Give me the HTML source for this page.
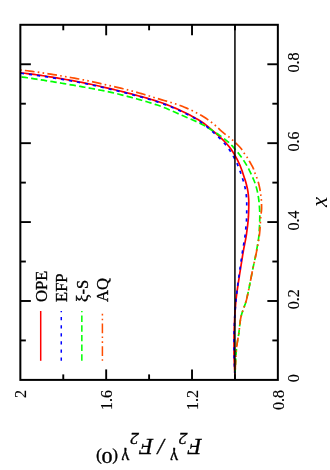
<!DOCTYPE html><html><head><meta charset="utf-8"><style>html,body{margin:0;padding:0;background:#fff;}svg{display:block;font-family:"Liberation Serif",serif;fill:#000;will-change:transform;}text{stroke:#000;stroke-width:0.35px;}</style></head><body><svg width="330" height="470" viewBox="0 0 330 470">
<rect width="330" height="470" fill="#fff"/>
<path d="M234.90,374.70 L234.76,372.39 L234.64,370.09 L234.52,367.78 L234.42,365.48 L234.33,363.17 L234.23,360.86 L234.14,358.56 L234.06,356.25 L234.01,353.94 L234.00,351.63 L234.00,349.32 L234.00,347.01 L234.00,344.71 L234.00,342.40 L234.00,340.09 L234.01,337.78 L234.05,335.47 L234.10,333.16 L234.17,330.85 L234.25,328.55 L234.34,326.24 L234.43,323.93 L234.53,321.63 L234.63,319.32 L234.74,317.01 L234.87,314.71 L235.01,312.40 L235.16,310.10 L235.34,307.79 L235.52,305.49 L235.71,303.19 L235.92,300.89 L236.14,298.60 L236.41,296.30 L236.71,294.02 L237.02,291.73 L237.35,289.44 L237.68,287.15 L238.01,284.87 L238.35,282.59 L238.70,280.30 L239.05,278.02 L239.41,275.74 L239.77,273.46 L240.14,271.18 L240.49,268.90 L240.85,266.62 L241.21,264.34 L241.57,262.06 L241.93,259.78 L242.29,257.50 L242.66,255.22 L243.04,252.94 L243.43,250.66 L243.84,248.39 L244.28,246.12 L244.73,243.86 L245.18,241.59 L245.61,239.32 L246.01,237.05 L246.38,234.77 L246.69,232.49 L247.00,230.20 L247.30,227.91 L247.59,225.61 L247.85,223.32 L248.09,221.02 L248.29,218.72 L248.44,216.41 L248.53,214.11 L248.62,211.81 L248.69,209.50 L248.75,207.19 L248.79,204.88 L248.80,202.57 L248.74,200.26 L248.60,197.95 L248.40,195.65 L248.17,193.36 L247.85,191.08 L247.41,188.80 L246.89,186.55 L246.35,184.30 L245.75,182.08 L245.06,179.87 L244.33,177.68 L243.60,175.49 L242.87,173.29 L242.14,171.10 L241.37,168.92 L240.55,166.77 L239.66,164.65 L238.69,162.54 L237.67,160.47 L236.60,158.42 L235.50,156.39 L234.35,154.39 L233.14,152.40 L231.89,150.46 L230.57,148.57 L229.19,146.74 L227.71,144.96 L226.17,143.23 L224.59,141.53 L222.99,139.88 L221.34,138.27 L219.65,136.70 L217.93,135.15 L216.19,133.63 L214.44,132.12 L212.68,130.63 L210.92,129.12 L209.16,127.61 L207.37,126.13 L205.56,124.69 L203.72,123.31 L201.83,122.02 L199.91,120.78 L197.95,119.57 L195.96,118.40 L193.95,117.25 L191.91,116.14 L189.86,115.05 L187.79,113.99 L185.72,112.96 L183.63,111.95 L181.55,110.96 L179.47,110.00 L177.36,109.05 L175.25,108.12 L173.12,107.21 L170.98,106.32 L168.83,105.46 L166.68,104.62 L164.51,103.81 L162.34,103.02 L160.17,102.26 L157.99,101.53 L155.80,100.82 L153.60,100.13 L151.39,99.46 L149.17,98.80 L146.95,98.16 L144.73,97.54 L142.50,96.92 L140.27,96.31 L138.03,95.71 L135.80,95.11 L133.57,94.51 L131.34,93.92 L129.11,93.33 L126.87,92.75 L124.64,92.17 L122.40,91.61 L120.16,91.05 L117.92,90.50 L115.67,89.96 L113.42,89.42 L111.18,88.89 L108.93,88.37 L106.68,87.85 L104.43,87.33 L102.18,86.81 L99.93,86.29 L97.67,85.78 L95.42,85.28 L93.16,84.78 L90.91,84.29 L88.65,83.80 L86.39,83.33 L84.13,82.86 L81.87,82.41 L79.60,81.96 L77.33,81.53 L75.07,81.11 L72.80,80.70 L70.53,80.30 L68.26,79.89 L65.98,79.49 L63.71,79.10 L61.44,78.71 L59.16,78.33 L56.89,77.95 L54.61,77.57 L52.33,77.20 L50.05,76.84 L47.77,76.48 L45.49,76.13 L43.20,75.78 L40.92,75.44 L38.63,75.11 L36.35,74.78 L34.06,74.46 L31.77,74.15 L29.48,73.84 L27.18,73.54 L24.89,73.25 L22.60,72.97 L20.30,72.70" fill="none" stroke="#ff0000" stroke-width="1.7"/>
<path d="M235.00,374.70 L235.10,372.37 L235.20,370.04 L235.31,367.71 L235.43,365.38 L235.56,363.04 L235.68,360.71 L235.82,358.38 L235.95,356.05 L236.08,353.72 L236.23,351.39 L236.42,349.07 L236.67,346.75 L236.99,344.44 L237.35,342.13 L237.73,339.83 L238.19,337.54 L238.58,335.24 L238.89,332.92 L239.16,330.60 L239.41,328.27 L239.65,325.94 L239.91,323.61 L240.21,321.30 L240.56,319.01 L241.00,316.75 L241.58,314.50 L242.27,312.28 L243.03,310.06 L243.83,307.85 L244.63,305.64 L245.39,303.42 L246.08,301.19 L246.67,298.94 L247.20,296.67 L247.71,294.39 L248.19,292.10 L248.66,289.82 L249.14,287.53 L249.61,285.24 L250.06,282.96 L250.51,280.67 L250.96,278.38 L251.41,276.08 L251.85,273.79 L252.30,271.50 L252.76,269.21 L253.23,266.93 L253.71,264.64 L254.21,262.36 L254.70,260.08 L255.17,257.79 L255.64,255.51 L256.08,253.22 L256.48,250.92 L256.89,248.62 L257.31,246.32 L257.71,244.01 L258.10,241.71 L258.45,239.40 L258.75,237.08 L258.98,234.77 L259.15,232.45 L259.28,230.12 L259.41,227.79 L259.53,225.46 L259.63,223.12 L259.71,220.79 L259.77,218.45 L259.80,216.12 L259.79,213.79 L259.72,211.45 L259.60,209.12 L259.43,206.79 L259.25,204.46 L259.05,202.14 L258.79,199.82 L258.47,197.51 L258.09,195.20 L257.67,192.91 L257.18,190.63 L256.62,188.35 L255.99,186.10 L255.30,183.88 L254.50,181.70 L253.61,179.54 L252.66,177.39 L251.69,175.27 L250.72,173.14 L249.71,171.03 L248.67,168.95 L247.57,166.89 L246.42,164.86 L245.21,162.86 L243.96,160.89 L242.65,158.95 L241.32,157.04 L239.93,155.17 L238.49,153.33 L237.01,151.52 L235.51,149.73 L233.99,147.96 L232.46,146.19 L230.88,144.47 L229.21,142.86 L227.44,141.33 L225.62,139.86 L223.77,138.43 L221.91,137.03 L220.02,135.66 L218.11,134.32 L216.18,133.00 L214.23,131.71 L212.28,130.43 L210.31,129.17 L208.33,127.93 L206.34,126.71 L204.32,125.54 L202.27,124.43 L200.20,123.38 L198.11,122.36 L196.00,121.38 L193.87,120.43 L191.72,119.49 L189.57,118.57 L187.42,117.66 L185.26,116.74 L183.11,115.83 L180.97,114.90 L178.83,113.96 L176.70,113.00 L174.57,112.05 L172.43,111.09 L170.29,110.15 L168.15,109.22 L166.00,108.32 L163.84,107.44 L161.66,106.61 L159.48,105.82 L157.28,105.05 L155.07,104.32 L152.85,103.60 L150.63,102.90 L148.39,102.22 L146.15,101.55 L143.91,100.90 L141.66,100.26 L139.41,99.62 L137.16,99.00 L134.90,98.38 L132.65,97.77 L130.40,97.16 L128.15,96.56 L125.89,95.96 L123.63,95.38 L121.36,94.81 L119.10,94.24 L116.83,93.70 L114.56,93.16 L112.28,92.64 L110.01,92.14 L107.73,91.65 L105.44,91.17 L103.15,90.70 L100.86,90.25 L98.57,89.80 L96.28,89.36 L93.99,88.93 L91.69,88.51 L89.40,88.09 L87.10,87.67 L84.80,87.26 L82.51,86.84 L80.21,86.43 L77.92,86.02 L75.62,85.62 L73.32,85.21 L71.02,84.81 L68.72,84.41 L66.42,84.01 L64.12,83.62 L61.82,83.23 L59.52,82.84 L57.22,82.45 L54.92,82.07 L52.61,81.69 L50.31,81.32 L48.01,80.94 L45.70,80.58 L43.40,80.21 L41.09,79.85 L38.78,79.49 L36.48,79.14 L34.17,78.79 L31.86,78.45 L29.55,78.11 L27.24,77.78 L24.93,77.45 L22.61,77.12 L20.30,76.80" fill="none" stroke="#00ff00" stroke-width="1.7" stroke-dasharray="6.48 3.24" stroke-dashoffset="0"/>
<path d="M234.90,374.70 L234.76,372.41 L234.64,370.11 L234.52,367.82 L234.42,365.52 L234.33,363.22 L234.23,360.93 L234.14,358.63 L234.07,356.33 L234.02,354.04 L234.00,351.74 L234.00,349.44 L234.00,347.14 L234.00,344.85 L234.00,342.55 L234.00,340.25 L234.01,337.95 L234.04,335.66 L234.09,333.36 L234.16,331.06 L234.24,328.76 L234.33,326.47 L234.42,324.17 L234.52,321.87 L234.62,319.58 L234.73,317.29 L234.85,314.99 L235.00,312.70 L235.16,310.40 L235.33,308.11 L235.51,305.82 L235.69,303.53 L235.89,301.24 L236.10,298.95 L236.33,296.67 L236.58,294.38 L236.85,292.10 L237.13,289.82 L237.42,287.54 L237.70,285.26 L238.00,282.98 L238.31,280.70 L238.63,278.43 L238.95,276.15 L239.27,273.88 L239.60,271.60 L239.92,269.33 L240.24,267.05 L240.56,264.78 L240.88,262.50 L241.21,260.23 L241.54,257.95 L241.87,255.68 L242.20,253.40 L242.54,251.13 L242.90,248.86 L243.28,246.59 L243.67,244.32 L244.06,242.06 L244.44,239.79 L244.78,237.52 L245.09,235.24 L245.35,232.96 L245.58,230.68 L245.82,228.39 L246.04,226.10 L246.25,223.81 L246.43,221.52 L246.57,219.22 L246.66,216.93 L246.70,214.63 L246.72,212.34 L246.73,210.04 L246.74,207.74 L246.75,205.44 L246.75,203.14 L246.72,200.85 L246.58,198.55 L246.38,196.25 L246.14,193.97 L245.85,191.70 L245.44,189.43 L244.94,187.18 L244.41,184.94 L243.83,182.73 L243.17,180.53 L242.45,178.34 L241.72,176.16 L241.00,173.97 L240.27,171.79 L239.52,169.61 L238.72,167.46 L237.86,165.34 L236.92,163.24 L235.92,161.17 L234.87,159.12 L233.79,157.10 L232.67,155.09 L231.49,153.11 L230.27,151.15 L229.00,149.24 L227.67,147.38 L226.26,145.56 L224.79,143.79 L223.27,142.05 L221.72,140.37 L220.12,138.72 L218.48,137.12 L216.80,135.55 L215.09,134.00 L213.37,132.47 L211.64,130.95 L209.92,129.42 L208.19,127.89 L206.45,126.37 L204.67,124.90 L202.87,123.50 L201.01,122.19 L199.11,120.94 L197.17,119.73 L195.19,118.56 L193.19,117.42 L191.16,116.31 L189.11,115.23 L187.05,114.18 L184.98,113.16 L182.90,112.16 L180.83,111.18 L178.75,110.22 L176.66,109.28 L174.55,108.36 L172.43,107.46 L170.30,106.59 L168.16,105.73 L166.01,104.91 L163.85,104.10 L161.69,103.32 L159.53,102.57 L157.35,101.85 L155.17,101.15 L152.98,100.46 L150.78,99.80 L148.57,99.15 L146.36,98.51 L144.15,97.89 L141.93,97.27 L139.71,96.67 L137.49,96.07 L135.27,95.47 L133.05,94.87 L130.83,94.28 L128.61,93.70 L126.38,93.12 L124.15,92.55 L121.93,91.99 L119.69,91.43 L117.46,90.89 L115.23,90.35 L112.99,89.82 L110.76,89.30 L108.52,88.78 L106.28,88.26 L104.04,87.74 L101.80,87.22 L99.56,86.71 L97.31,86.20 L95.07,85.70 L92.82,85.21 L90.58,84.72 L88.33,84.24 L86.08,83.76 L83.83,83.30 L81.58,82.85 L79.32,82.41 L77.07,81.98 L74.81,81.57 L72.55,81.16 L70.29,80.75 L68.03,80.35 L65.77,79.96 L63.51,79.57 L61.25,79.18 L58.98,78.79 L56.71,78.42 L54.45,78.04 L52.18,77.68 L49.91,77.31 L47.64,76.96 L45.37,76.61 L43.10,76.26 L40.82,75.92 L38.55,75.59 L36.27,75.27 L33.99,74.95 L31.71,74.64 L29.43,74.34 L27.15,74.04 L24.87,73.75 L22.59,73.47 L20.30,73.20" fill="none" stroke="#0000ff" stroke-width="1.7" stroke-dasharray="3.24 4.86" stroke-dashoffset="0"/>
<path d="M235.00,374.70 L235.10,372.33 L235.21,369.95 L235.32,367.58 L235.44,365.21 L235.57,362.84 L235.70,360.47 L235.83,358.09 L235.97,355.72 L236.10,353.35 L236.26,350.98 L236.46,348.61 L236.74,346.26 L237.07,343.90 L237.44,341.55 L237.84,339.21 L238.32,336.88 L238.68,334.54 L238.98,332.18 L239.24,329.81 L239.49,327.43 L239.75,325.06 L240.02,322.70 L240.34,320.36 L240.73,318.04 L241.24,315.74 L241.89,313.47 L242.63,311.21 L243.43,308.96 L244.24,306.71 L245.04,304.46 L245.78,302.19 L246.42,299.91 L246.99,297.60 L247.51,295.29 L248.01,292.96 L248.49,290.63 L248.97,288.31 L249.45,285.98 L249.92,283.65 L250.38,281.32 L250.83,278.99 L251.28,276.66 L251.73,274.32 L252.19,271.99 L252.67,269.67 L253.16,267.34 L253.67,265.02 L254.19,262.70 L254.71,260.38 L255.23,258.07 L255.73,255.74 L256.21,253.42 L256.66,251.09 L257.10,248.75 L257.54,246.42 L257.98,244.08 L258.40,241.73 L258.79,239.39 L259.14,237.04 L259.44,234.69 L259.68,232.33 L259.88,229.97 L260.05,227.60 L260.20,225.23 L260.34,222.85 L260.49,220.48 L260.65,218.11 L260.83,215.74 L261.11,213.38 L261.46,211.02 L261.60,208.66 L261.58,206.29 L261.53,203.91 L261.45,201.54 L261.27,199.17 L261.01,196.80 L260.71,194.44 L260.39,192.09 L260.00,189.75 L259.55,187.41 L259.04,185.09 L258.46,182.79 L257.76,180.52 L257.00,178.26 L256.16,176.05 L255.25,173.85 L254.46,171.60 L253.70,169.36 L252.74,167.20 L251.62,165.10 L250.43,163.03 L249.26,160.96 L248.09,158.89 L246.85,156.87 L245.43,154.96 L244.01,153.06 L242.78,151.02 L241.46,149.06 L239.95,147.25 L238.30,145.52 L236.60,143.84 L234.89,142.19 L233.16,140.56 L231.39,138.97 L229.57,137.45 L227.67,136.02 L225.74,134.63 L223.84,133.20 L222.03,131.67 L220.27,130.07 L218.54,128.44 L216.80,126.80 L215.04,125.21 L213.23,123.68 L211.36,122.23 L209.46,120.80 L207.52,119.40 L205.55,118.06 L203.55,116.79 L201.52,115.59 L199.46,114.42 L197.37,113.29 L195.26,112.18 L193.13,111.11 L190.98,110.07 L188.81,109.07 L186.63,108.10 L184.44,107.18 L182.24,106.30 L180.03,105.47 L177.80,104.68 L175.56,103.93 L173.29,103.22 L171.01,102.53 L168.73,101.86 L166.44,101.19 L164.15,100.53 L161.87,99.86 L159.59,99.18 L157.32,98.48 L155.05,97.78 L152.78,97.08 L150.51,96.38 L148.23,95.68 L145.96,94.99 L143.69,94.30 L141.41,93.63 L139.13,92.96 L136.84,92.31 L134.56,91.68 L132.26,91.06 L129.97,90.47 L127.67,89.88 L125.36,89.31 L123.05,88.75 L120.74,88.20 L118.43,87.66 L116.11,87.12 L113.80,86.59 L111.48,86.06 L109.16,85.54 L106.85,85.01 L104.53,84.49 L102.21,83.96 L99.89,83.44 L97.57,82.92 L95.25,82.41 L92.93,81.90 L90.61,81.40 L88.28,80.91 L85.96,80.43 L83.63,79.95 L81.30,79.49 L78.97,79.04 L76.64,78.60 L74.30,78.17 L71.97,77.76 L69.63,77.34 L67.29,76.93 L64.96,76.52 L62.62,76.12 L60.27,75.73 L57.93,75.33 L55.59,74.95 L53.25,74.57 L50.90,74.19 L48.55,73.82 L46.21,73.45 L43.86,73.10 L41.51,72.74 L39.16,72.40 L36.80,72.06 L34.45,71.73 L32.10,71.40 L29.74,71.09 L27.38,70.78 L25.02,70.48 L22.66,70.18 L20.30,69.90" fill="none" stroke="#ff4d00" stroke-width="1.7" stroke-dasharray="1.62 3.24 9.72 3.24 1.62 3.24" stroke-dashoffset="0"/>
<line x1="234.93" y1="24.8" x2="234.93" y2="379.9" stroke="#000" stroke-width="1.5"/>
<rect x="20.35" y="24.8" width="257.5" height="355.09999999999997" fill="none" stroke="#000" stroke-width="2.0"/>
<line x1="277.85" y1="340.44" x2="272.35" y2="340.44" stroke="#000" stroke-width="1.9"/>
<line x1="20.35" y1="340.44" x2="25.85" y2="340.44" stroke="#000" stroke-width="1.9"/>
<line x1="277.85" y1="300.99" x2="267.35" y2="300.99" stroke="#000" stroke-width="1.9"/>
<line x1="20.35" y1="300.99" x2="30.85" y2="300.99" stroke="#000" stroke-width="1.9"/>
<line x1="277.85" y1="261.53" x2="272.35" y2="261.53" stroke="#000" stroke-width="1.9"/>
<line x1="20.35" y1="261.53" x2="25.85" y2="261.53" stroke="#000" stroke-width="1.9"/>
<line x1="277.85" y1="222.08" x2="267.35" y2="222.08" stroke="#000" stroke-width="1.9"/>
<line x1="20.35" y1="222.08" x2="30.85" y2="222.08" stroke="#000" stroke-width="1.9"/>
<line x1="277.85" y1="182.62" x2="272.35" y2="182.62" stroke="#000" stroke-width="1.9"/>
<line x1="20.35" y1="182.62" x2="25.85" y2="182.62" stroke="#000" stroke-width="1.9"/>
<line x1="277.85" y1="143.17" x2="267.35" y2="143.17" stroke="#000" stroke-width="1.9"/>
<line x1="20.35" y1="143.17" x2="30.85" y2="143.17" stroke="#000" stroke-width="1.9"/>
<line x1="277.85" y1="103.71" x2="272.35" y2="103.71" stroke="#000" stroke-width="1.9"/>
<line x1="20.35" y1="103.71" x2="25.85" y2="103.71" stroke="#000" stroke-width="1.9"/>
<line x1="277.85" y1="64.26" x2="267.35" y2="64.26" stroke="#000" stroke-width="1.9"/>
<line x1="20.35" y1="64.26" x2="30.85" y2="64.26" stroke="#000" stroke-width="1.9"/>
<line x1="234.93" y1="379.9" x2="234.93" y2="374.4" stroke="#000" stroke-width="1.9"/>
<line x1="234.93" y1="24.8" x2="234.93" y2="30.3" stroke="#000" stroke-width="1.9"/>
<line x1="192.02" y1="379.9" x2="192.02" y2="369.4" stroke="#000" stroke-width="1.9"/>
<line x1="192.02" y1="24.8" x2="192.02" y2="35.3" stroke="#000" stroke-width="1.9"/>
<line x1="149.10" y1="379.9" x2="149.10" y2="374.4" stroke="#000" stroke-width="1.9"/>
<line x1="149.10" y1="24.8" x2="149.10" y2="30.3" stroke="#000" stroke-width="1.9"/>
<line x1="106.18" y1="379.9" x2="106.18" y2="369.4" stroke="#000" stroke-width="1.9"/>
<line x1="106.18" y1="24.8" x2="106.18" y2="35.3" stroke="#000" stroke-width="1.9"/>
<line x1="63.27" y1="379.9" x2="63.27" y2="374.4" stroke="#000" stroke-width="1.9"/>
<line x1="63.27" y1="24.8" x2="63.27" y2="30.3" stroke="#000" stroke-width="1.9"/>
<text transform="translate(299.40,378.20) rotate(-90) scale(1,1.05)" text-anchor="middle" font-size="16" style="stroke-width:0.15px">0</text>
<text transform="translate(299.40,299.29) rotate(-90) scale(1,1.05)" text-anchor="middle" font-size="16" style="stroke-width:0.15px">0.2</text>
<text transform="translate(299.40,220.38) rotate(-90) scale(1,1.05)" text-anchor="middle" font-size="16" style="stroke-width:0.15px">0.4</text>
<text transform="translate(299.40,141.47) rotate(-90) scale(1,1.05)" text-anchor="middle" font-size="16" style="stroke-width:0.15px">0.6</text>
<text transform="translate(299.40,62.56) rotate(-90) scale(1,1.05)" text-anchor="middle" font-size="16" style="stroke-width:0.15px">0.8</text>
<text transform="translate(283.75,390.00) rotate(-90) scale(1,1.05)" text-anchor="end" font-size="16" style="stroke-width:0.15px">0.8</text>
<text transform="translate(197.92,390.00) rotate(-90) scale(1,1.05)" text-anchor="end" font-size="16" style="stroke-width:0.15px">1.2</text>
<text transform="translate(112.08,390.00) rotate(-90) scale(1,1.05)" text-anchor="end" font-size="16" style="stroke-width:0.15px">1.6</text>
<text transform="translate(26.25,390.00) rotate(-90) scale(1,1.05)" text-anchor="end" font-size="16" style="stroke-width:0.15px">2</text>
<path d="M40.70,360.8 L40.70,311" fill="none" stroke="#ff0000" stroke-width="1.5"/>
<text transform="translate(46.50,301.90) rotate(-90)" text-anchor="start" font-size="16.5">OPE</text>
<path d="M61.27,360.8 L61.27,311" fill="none" stroke="#0000ff" stroke-width="1.5" stroke-dasharray="3.24 4.86"/>
<text transform="translate(67.07,301.90) rotate(-90)" text-anchor="start" font-size="16.5">EFP</text>
<path d="M81.84,360.8 L81.84,311" fill="none" stroke="#00ff00" stroke-width="1.5" stroke-dasharray="6.48 3.24"/>
<text transform="translate(87.64,301.90) rotate(-90)" text-anchor="start" font-size="16.5">&#958;-S</text>
<path d="M102.41,360.8 L102.41,311" fill="none" stroke="#ff4d00" stroke-width="1.5" stroke-dasharray="1.62 3.24 9.72 3.24 1.62 3.24"/>
<text transform="translate(108.21,301.90) rotate(-90)" text-anchor="start" font-size="16.5">AQ</text>
<text transform="translate(327.00,202.00) rotate(-90)" text-anchor="middle" font-size="23" font-style="italic" style="stroke-width:0">x</text>
<g transform="translate(201.5,439) rotate(180)" style="stroke-width:0.1px"><text x="-0.3" y="0.3" font-size="23" font-style="italic">F</text><text x="14.0" y="5.6" font-size="17.5" font-style="italic">2</text><text x="23.6" y="-12.8" font-size="17.5">&#947;</text><text x="48.300000000000004" y="0.3" font-size="23" font-style="italic">F</text><text x="62.6" y="5.6" font-size="17.5" font-style="italic">2</text><text x="72.2" y="-12.8" font-size="17.5">&#947;</text><text x="37.1" y="0.5" font-size="23" font-style="italic">/</text><text x="83.4" y="-12.9" font-size="17">(</text><text transform="translate(94.35,-12.9) scale(1.25,1)" text-anchor="middle" font-size="17.5">0</text><text x="99.8" y="-12.9" font-size="17">)</text></g>
</svg></body></html>
